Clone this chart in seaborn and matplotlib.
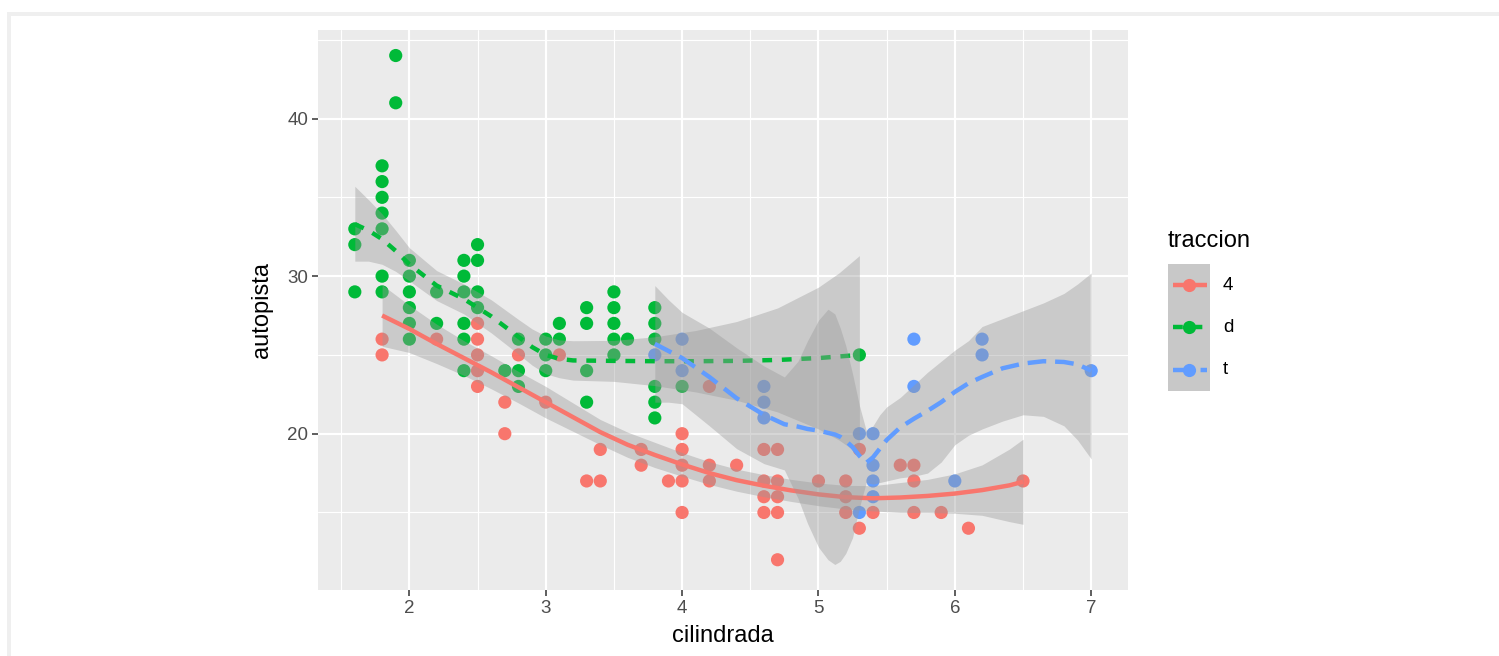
import numpy as np
import pandas as pd
import matplotlib
matplotlib.use("Agg")
import matplotlib.pyplot as plt
from matplotlib.patches import Rectangle
from matplotlib.lines import Line2D
from matplotlib.ticker import FixedLocator
import seaborn as sns

# ---------------- data: observed points ----------------
cil_4 = [1.8, 1.8, 2.2, 2.5, 2.5, 2.5, 2.5, 2.5, 2.7, 2.7, 2.8, 3.0, 3.1, 3.3, 3.4, 3.4,
         3.7, 3.7, 3.9, 4.0, 4.0, 4.0, 4.0, 4.0, 4.2, 4.2, 4.2, 4.4, 4.6, 4.6, 4.6, 4.6,
         4.7, 4.7, 4.7, 4.7, 4.7, 5.0, 5.2, 5.2, 5.2, 5.3, 5.3, 5.4, 5.6, 5.7, 5.7, 5.7,
         5.9, 6.1, 6.5]
aut_4 = [26, 25, 26, 27, 26, 25, 24, 23, 22, 20, 25, 22, 25, 17, 19, 17,
         19, 18, 17, 20, 19, 18, 17, 15, 23, 18, 17, 18, 19, 17, 16, 15,
         19, 17, 16, 15, 12, 17, 17, 16, 15, 19, 14, 15, 18, 18, 17, 15,
         15, 14, 17]

cil_d = [1.6, 1.6, 1.6, 1.8, 1.8, 1.8, 1.8, 1.8, 1.8, 1.8, 1.9, 1.9,
         2.0, 2.0, 2.0, 2.0, 2.0, 2.0, 2.2, 2.2, 2.4, 2.4, 2.4, 2.4, 2.4, 2.4,
         2.5, 2.5, 2.5, 2.5, 2.7, 2.8, 2.8, 2.8, 3.0, 3.0, 3.0, 3.1, 3.1,
         3.3, 3.3, 3.3, 3.3, 3.5, 3.5, 3.5, 3.5, 3.5, 3.6,
         3.8, 3.8, 3.8, 3.8, 3.8, 3.8, 4.0, 5.3]
aut_d = [33, 32, 29, 37, 36, 35, 34, 33, 30, 29, 44, 41,
         31, 30, 29, 28, 27, 26, 29, 27, 31, 30, 29, 27, 26, 24,
         32, 31, 29, 28, 24, 26, 24, 23, 26, 25, 24, 27, 26,
         28, 27, 24, 22, 29, 28, 27, 26, 25, 26,
         28, 27, 26, 23, 22, 21, 23, 25]

cil_t = [3.8, 4.0, 4.0, 4.6, 4.6, 4.6, 5.3, 5.3, 5.4, 5.4, 5.4, 5.4, 5.7, 5.7, 6.0, 6.2, 6.2, 7.0]
aut_t = [25, 26, 24, 23, 22, 21, 20, 15, 20, 18, 17, 16, 26, 23, 17, 26, 25, 24]

# ---------------- data: smoothed curves ----------------
sx_4 = [1.8, 2.0, 2.2, 2.4, 2.6, 2.8, 3.0, 3.2, 3.4, 3.6, 3.8, 4.0, 4.2, 4.4, 4.6, 4.8,
        5.0, 5.2, 5.4, 5.6, 5.8, 6.0, 6.2, 6.4, 6.5]
fit_4 = [27.5, 26.65, 25.7, 24.8, 23.9, 22.95, 22.0, 21.05, 20.1, 19.3, 18.65, 18.05, 17.5,
         17.05, 16.7, 16.4, 16.15, 15.97, 15.9, 15.95, 16.05, 16.2, 16.42, 16.72, 16.95]
lo_4 = [25.55, 25.15, 24.45, 23.7, 22.85, 21.95, 21.0, 20.15, 19.3, 18.5, 17.85, 17.3, 16.78,
        16.35, 16.0, 15.7, 15.43, 15.22, 15.1, 15.0, 15.0, 14.95, 14.82, 14.42, 14.25]
hi_4 = [29.45, 28.15, 26.95, 25.9, 24.95, 23.95, 23.0, 21.95, 20.9, 20.1, 19.45, 18.8, 18.22,
        17.75, 17.4, 17.1, 16.87, 16.72, 16.7, 16.9, 17.1, 17.45, 18.02, 19.02, 19.65]

sx_d = [1.6, 1.7, 1.8, 1.9, 2.0, 2.2, 2.4, 2.6, 2.8, 2.9, 3.0, 3.1, 3.2, 3.5, 3.8, 4.1,
        4.4, 4.7, 5.0, 5.15, 5.3]
fit_d = [33.3, 32.9, 32.35, 31.6, 30.75, 29.4, 28.55, 27.45, 26.15, 25.5, 25.0, 24.75, 24.65,
         24.62, 24.6, 24.6, 24.62, 24.68, 24.8, 24.9, 25.0]
lo_d = [30.95, 30.95, 30.75, 30.3, 29.7, 28.45, 27.6, 26.4, 25.05, 24.35, 23.8, 23.55, 23.4,
        23.32, 23.05, 22.65, 22.12, 21.38, 20.3, 19.6, 18.7]
hi_d = [35.7, 34.85, 33.95, 32.9, 31.8, 30.35, 29.5, 28.5, 27.25, 26.65, 26.2, 25.95, 25.9,
        25.92, 26.15, 26.55, 27.12, 27.98, 29.3, 30.2, 31.3]

sx_t = [3.8, 3.9, 4.0, 4.2, 4.4, 4.6, 4.75, 4.85, 4.92, 5.0, 5.07, 5.12, 5.16, 5.2, 5.25,
        5.3, 5.35, 5.4, 5.45, 5.5, 5.6, 5.7, 5.8, 5.9, 6.0, 6.1, 6.2, 6.35, 6.5, 6.65,
        6.8, 6.9, 7.0]
fit_t = [25.7, 25.25, 24.8, 23.6, 22.25, 21.2, 20.6, 20.45, 20.3, 20.2, 20.05, 19.95, 19.8,
         19.55, 19.15, 18.6, 18.15, 18.5, 19.05, 19.6, 20.4, 20.95, 21.45, 22.0, 22.65, 23.2,
         23.6, 24.15, 24.45, 24.6, 24.55, 24.4, 24.0]
lo_t = [22.0, 22.0, 21.9, 20.5, 19.05, 18.1, 17.7, 15.9, 14.3, 12.8, 12.0, 11.7, 11.9, 12.4,
        13.4, 15.3, 16.9, 16.8, 16.9, 17.0, 17.2, 17.3, 17.5, 18.2, 19.3, 19.9, 20.3, 20.8,
        21.2, 21.1, 20.5, 19.6, 18.4]
hi_t = [29.4, 28.5, 27.7, 26.7, 25.45, 24.3, 23.6, 24.6, 25.9, 27.2, 27.9, 27.6, 26.7, 25.6,
        23.8, 21.8, 20.2, 20.5, 21.2, 21.7, 22.3, 23.1, 23.9, 24.6, 25.3, 25.9, 26.8, 27.3,
        27.8, 28.3, 28.9, 29.5, 30.2]

levels = ["4", "d", "t"]
colors = {"4": "#F8766D", "d": "#00BA38", "t": "#619CFF"}
x_ticks = [2, 3, 4, 5, 6, 7]
y_ticks = [20, 30, 40]

# ---------------- figure ----------------
sns.set_theme(style="darkgrid", rc={
    "axes.facecolor": "#EBEBEB",
    "grid.color": "white",
    "axes.edgecolor": "none",
})
plt.rcParams["font.family"] = ["Liberation Sans", "DejaVu Sans"]

W, H = 1499, 656
fig = plt.figure(figsize=(W / 100, H / 100), dpi=100)
fig.patch.set_facecolor("white")

# outer light frame of the page
fig.add_artist(Rectangle((7 / W, 0), 4 / W, 1 - 12 / H, transform=fig.transFigure,
                         facecolor="#EFEFEF", edgecolor="none", zorder=0))
fig.add_artist(Rectangle((7 / W, 1 - 16 / H), 1 - 7 / W, 4 / H, transform=fig.transFigure,
                         facecolor="#EFEFEF", edgecolor="none", zorder=0))

L, R, T, B = 318, 1128, 30, 590
ax = fig.add_axes([L / W, 1 - B / H, (R - L) / W, (B - T) / H])

df = pd.DataFrame({
    "cilindrada": cil_4 + cil_d + cil_t,
    "autopista": aut_4 + aut_d + aut_t,
    "traccion": ["4"] * len(cil_4) + ["d"] * len(cil_d) + ["t"] * len(cil_t),
})

sns.scatterplot(data=df, x="cilindrada", y="autopista", hue="traccion",
                palette=colors, hue_order=levels, s=90, linewidth=0, alpha=1,
                legend=False, ax=ax, zorder=2)

smooth = {
    "4": (sx_4, fit_4, lo_4, hi_4),
    "d": (sx_d, fit_d, lo_d, hi_d),
    "t": (sx_t, fit_t, lo_t, hi_t),
}
dash_styles = {"4": None, "d": (2.2, 2.2), "t": (4.2, 2.0)}
LW = 3.2
z = 3.0
for lev in levels:
    sx, fit, lo, hi = smooth[lev]
    ax.fill_between(sx, lo, hi, color="#999999", alpha=0.4, linewidth=0, zorder=z)
    n_before = len(ax.lines)
    sns.lineplot(x=sx, y=fit, color=colors[lev], linewidth=LW, ax=ax,
                 estimator=None, sort=False, zorder=z + 0.1)
    ln = ax.lines[n_before]
    ln.set_solid_capstyle("butt")
    if dash_styles[lev] is not None:
        ln.set_dashes(dash_styles[lev])
        ln.set_dash_capstyle("butt")
    z += 0.2

ax.set_xlim(1.33, 7.27)
ax.set_ylim(10.08, 45.62)
ax.xaxis.set_major_locator(FixedLocator(x_ticks))
ax.yaxis.set_major_locator(FixedLocator(y_ticks))
ax.xaxis.set_minor_locator(FixedLocator([1.5, 2.5, 3.5, 4.5, 5.5, 6.5]))
ax.yaxis.set_minor_locator(FixedLocator([15, 25, 35, 45]))
ax.set_xticklabels([str(v) for v in x_ticks])
ax.set_yticklabels([str(v) for v in y_ticks])
ax.grid(which="major", color="white", linewidth=1.55, zorder=0)
ax.grid(which="minor", color="white", linewidth=0.8, zorder=0)
ax.set_axisbelow(True)
for sp in ax.spines.values():
    sp.set_visible(False)
ax.tick_params(axis="both", which="major", length=4.0, width=1.1, color="#333333",
               labelsize=13.5, labelcolor="#4D4D4D", pad=3.2, bottom=True, left=True)
ax.tick_params(axis="both", which="minor", length=0)
ax.set_xlabel("")
ax.set_ylabel("")

fig.text(723 / W, 1 - 636 / H, "cilindrada", ha="center", va="center", fontsize=17, color="black")
fig.text(262 / W, 1 - 310 / H, "autopista", ha="center", va="center", rotation=90,
         fontsize=17, color="black")

# ---------------- legend ----------------
fig.text(1168 / W, 1 - 241 / H, "traccion", ha="left", va="center", fontsize=17, color="black")
fig.add_artist(Rectangle((1168 / W, 1 - 391 / H), 42 / W, 127 / H, transform=fig.transFigure,
                         facecolor="#C8C8C8", edgecolor="none"))
key_y = [285, 327, 370]
for lev, ky in zip(levels, key_y):
    yy = 1 - ky / H
    ln = Line2D([1173 / W, 1207 / W], [yy, yy], transform=fig.transFigure,
                color=colors[lev], linewidth=LW, solid_capstyle="butt")
    if dash_styles[lev] is not None:
        ln.set_dashes(dash_styles[lev])
        ln.set_dash_capstyle("butt")
    fig.add_artist(ln)
    fig.add_artist(Line2D([1189 / W], [yy], transform=fig.transFigure, marker="o",
                          markersize=9.5, markeredgewidth=0, color=colors[lev], linestyle="none"))
    fig.text(1223 / W, yy, lev, ha="left", va="center", fontsize=13.5, color="black")

fig.savefig("out.png", dpi=100, facecolor="white")
